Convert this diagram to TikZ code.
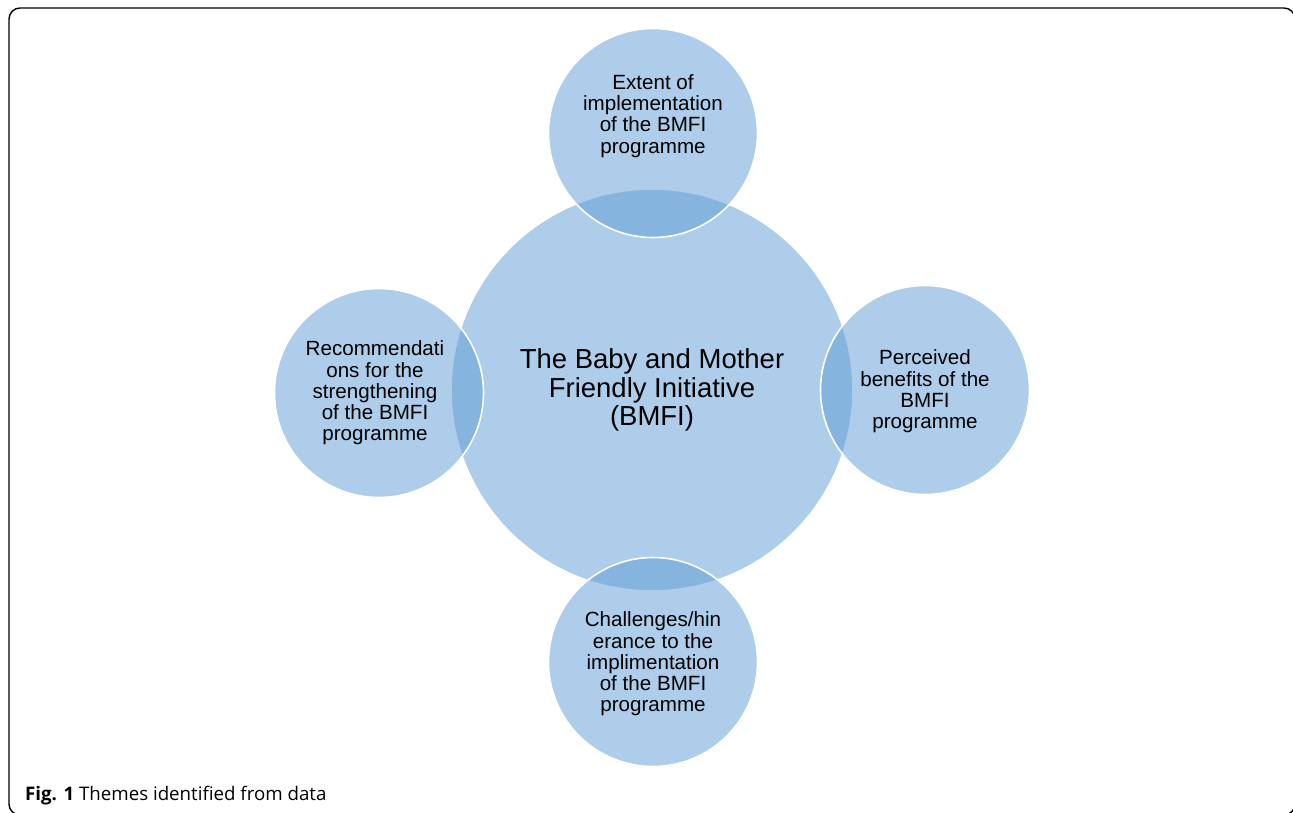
\documentclass[tikz,border=0pt]{standalone}
\usepackage{fontspec}
\setmainfont{Liberation Sans}
\newfontfamily\captionfont{Open Sans}
\usepackage{xcolor}
\definecolor{themeblue}{RGB}{93,155,213}

\tikzset{
	theme/.style={circle, fill=themeblue, fill opacity=0.5, draw=white, line width=1.6pt, inner sep=0pt},
	bigtext/.style={align=center, font=\fontsize{27.5}{28.5}\selectfont},
	smalltext/.style={align=center, font=\fontsize{20.6}{21.3}\selectfont}
}

\begin{document}
\begin{tikzpicture}[x=1pt, y=-1pt]
	\useasboundingbox (0,0) rectangle (1293,812);
	\draw[line width=1.4pt, rounded corners=11pt] (9,8) rectangle (1295,815);
	% circles: the centre one first, the themes over it
	\node[theme, minimum size=402pt] (bmfi) at (652,390) {};
	\node[theme, minimum size=209pt] (extent) at (653,133) {};
	\node[theme, minimum size=209pt] (benefits) at (925,390) {};
	\node[theme, minimum size=209pt] (challenges) at (653,662) {};
	\node[theme, minimum size=209pt] (recommend) at (379,393) {};
	% texts
	\node[bigtext] (bmfitext) at (bmfi.center) {The Baby and Mother\\Friendly Initiative\\(BMFI)};
	\node[smalltext] (extenttext) at ([yshift=17pt]extent.center) {Extent of\\implementation\\of the BMFI\\programme};
	\node[smalltext] (benefitstext) at ([yshift=-1.5pt]benefits.center) {Perceived\\benefits of the\\BMFI\\programme};
	\node[smalltext] (challengestext) at ([yshift=-2pt]challenges.center) {Challenges/hin\\erance to the\\implimentation\\of the BMFI\\programme};
	\node[smalltext] (recommendtext) at ([xshift=-4pt]recommend.center) {Recommendati\\ons for the\\strengthening\\of the BMFI\\programme};
	% caption
	\node[anchor=base west, font=\captionfont\fontsize{18.7}{20}\selectfont, inner sep=0pt] (caption) at (25,800) {\textbf{Fig. 1} Themes identified from data};
\end{tikzpicture}
\end{document}
